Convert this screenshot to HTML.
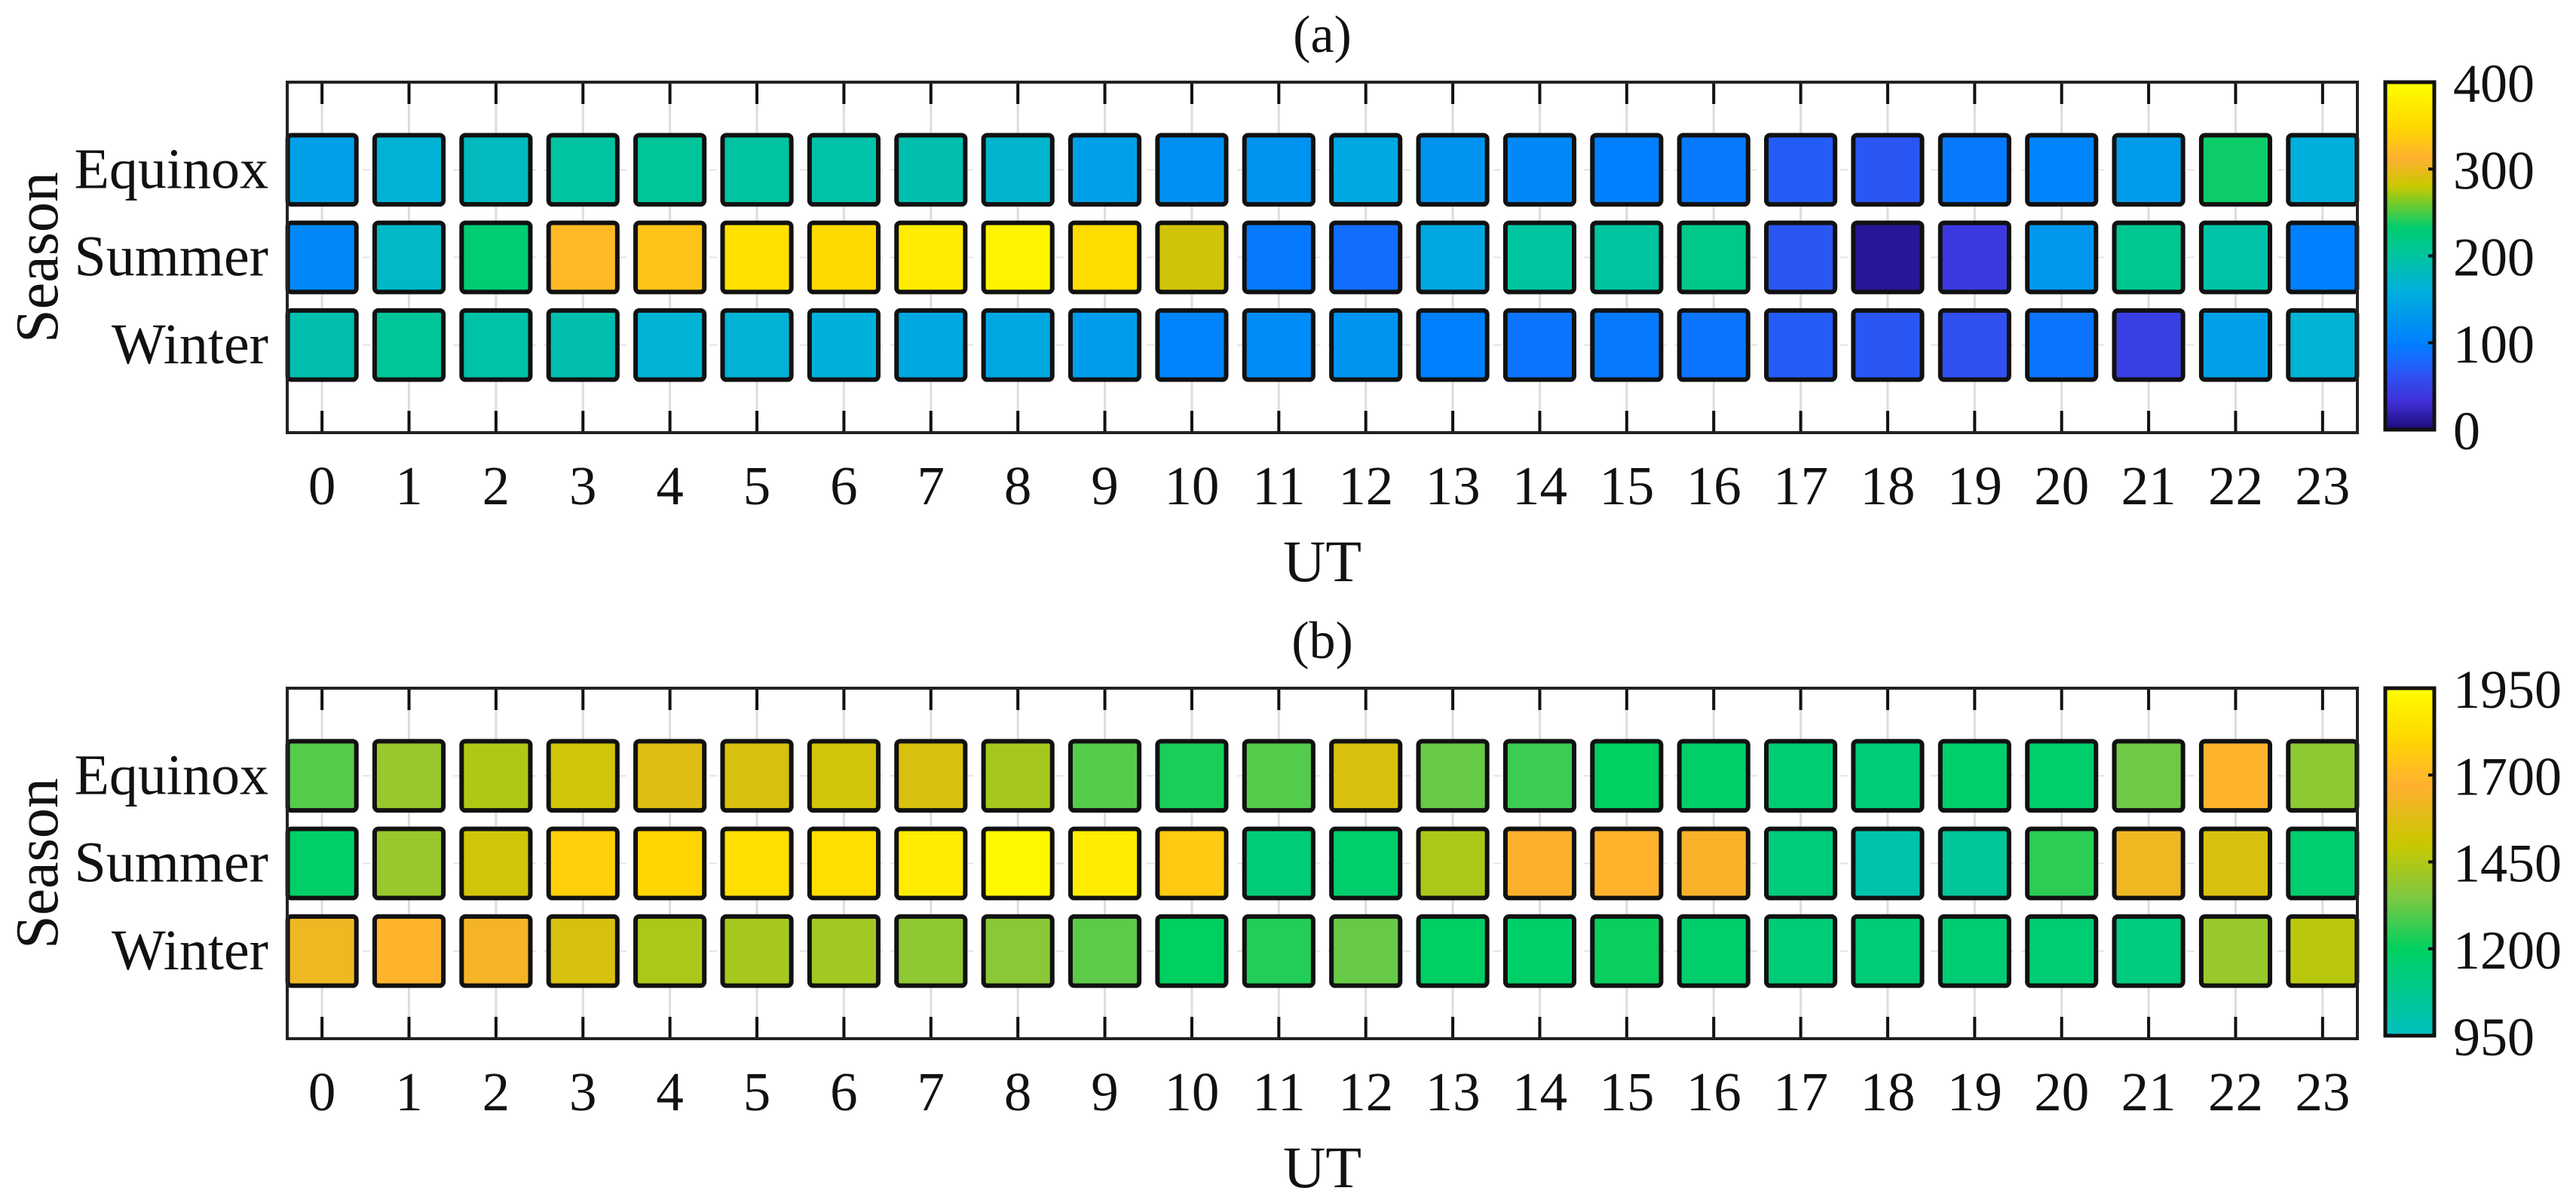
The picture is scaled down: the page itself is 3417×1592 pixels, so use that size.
<!DOCTYPE html>
<html><head><meta charset="utf-8">
<style>
html,body{margin:0;padding:0;background:#fff;}
svg{display:block;}
text{font-family:"Liberation Serif",serif;fill:#111;}
</style></head>
<body>
<svg id="fig" width="3417" height="1592" viewBox="0 0 3417 1592" xmlns="http://www.w3.org/2000/svg">
<defs>
<linearGradient id="cbA" x1="0" y1="1" x2="0" y2="0">
<stop offset="0" stop-color="#1c0a78"/><stop offset="0.08" stop-color="#4030d8"/><stop offset="0.15" stop-color="#3050f0"/><stop offset="0.2" stop-color="#1868ff"/>
<stop offset="0.25" stop-color="#0080ff"/><stop offset="0.4" stop-color="#00b0dc"/><stop offset="0.5" stop-color="#00c4a0"/>
<stop offset="0.58" stop-color="#00cc70"/><stop offset="0.63" stop-color="#50cc40"/><stop offset="0.7" stop-color="#c8c800"/>
<stop offset="0.78" stop-color="#ffb030"/><stop offset="0.87" stop-color="#ffd800"/><stop offset="1" stop-color="#ffff00"/>
</linearGradient>
<linearGradient id="cbB" x1="0" y1="1" x2="0" y2="0">
<stop offset="0" stop-color="#00c0c0"/><stop offset="0.25" stop-color="#00d060"/><stop offset="0.4" stop-color="#80c840"/>
<stop offset="0.55" stop-color="#c8c800"/><stop offset="0.72" stop-color="#ffb030"/><stop offset="0.86" stop-color="#ffd800"/>
<stop offset="1" stop-color="#ffff00"/>
</linearGradient>
</defs>
</svg>
<script>
const seasons = ["Equinox","Summer","Winter"];
const hours = [0,1,2,3,4,5,6,7,8,9,10,11,12,13,14,15,16,17,18,19,20,21,22,23];
const aEquinox = [140,165,180,200,205,200,195,190,170,140,120,125,150,125,110,100,95,70,65,95,105,135,235,160];
const aSummer  = [110,175,230,320,330,360,350,375,385,355,285,95,85,150,200,200,215,65,10,40,130,210,195,100];
const aWinter  = [190,205,195,190,165,165,160,150,150,135,105,115,125,100,90,95,90,70,65,60,90,45,140,165];
const bEquinox = [1300,1400,1450,1530,1570,1550,1530,1550,1430,1300,1230,1300,1550,1320,1270,1200,1180,1150,1140,1170,1170,1330,1680,1380];
const bSummer  = [1180,1400,1530,1780,1800,1830,1830,1880,1920,1880,1760,1140,1170,1440,1660,1680,1650,1130,1000,1050,1250,1620,1550,1160];
const bWinter  = [1620,1680,1640,1550,1440,1430,1420,1380,1370,1310,1200,1240,1320,1190,1180,1210,1170,1140,1140,1150,1150,1120,1400,1470];
const aTicks = [0,100,200,300,400];
const bTicks = [950,1200,1450,1700,1950];

const NS="http://www.w3.org/2000/svg";
const svg=document.getElementById('fig');
function mk(tag,attrs,parent){const e=document.createElementNS(NS,tag);for(const k in attrs)e.setAttribute(k,attrs[k]);(parent||svg).appendChild(e);return e;}
function hex(h){return [parseInt(h.slice(1,3),16),parseInt(h.slice(3,5),16),parseInt(h.slice(5,7),16)];}
function cmap(stops,t){t=Math.max(0,Math.min(1,t));for(let i=1;i<stops.length;i++){if(t<=stops[i][0]){const a=stops[i-1],b=stops[i];const f=(t-a[0])/(b[0]-a[0]||1);const ca=hex(a[1]),cb=hex(b[1]);return 'rgb('+ca.map((v,j)=>Math.round(v+(cb[j]-v)*f)).join(',')+')';}}return stops[stops.length-1][1];}
const stopsA=[[0,'#1c0a78'],[0.08,'#4030d8'],[0.15,'#3050f0'],[0.2,'#1868ff'],[0.25,'#0080ff'],[0.4,'#00b0dc'],[0.5,'#00c4a0'],[0.58,'#00cc70'],[0.63,'#50cc40'],[0.7,'#c8c800'],[0.78,'#ffb030'],[0.87,'#ffd800'],[1,'#ffff00']];
const stopsB=[[0,'#00c0c0'],[0.25,'#00d060'],[0.4,'#80c840'],[0.55,'#c8c800'],[0.72,'#ffb030'],[0.86,'#ffd800'],[1,'#ffff00']];

function panel(cfg){
  const L=381,R=3127,T=cfg.top,B=cfg.top+465;
  const xs=h=>L+(h+0.4)/23.8*(R-L);
  const ys=r=>T+(r+1)/4*(B-T);
  const g=mk('g',{});
  
  
  const t=mk('text',{x:(L+R)/2,y:T-40,'font-size':70,'text-anchor':'middle'},g);t.textContent=cfg.title;
  
  hours.forEach(h=>{mk('line',{x1:xs(h),x2:xs(h),y1:T,y2:B,stroke:'#ddd','stroke-width':3},g);});
  seasons.forEach((s,r)=>{mk('line',{x1:L,x2:R,y1:ys(r),y2:ys(r),stroke:'#e4e4e4','stroke-width':2,'stroke-dasharray':'10 10'},g);});
  hours.forEach(h=>{mk('line',{x1:xs(h),x2:xs(h),y1:T,y2:T+29,stroke:'#111','stroke-width':4},g);mk('line',{x1:xs(h),x2:xs(h),y1:B-29,y2:B,stroke:'#111','stroke-width':4},g);
    const tl=mk('text',{x:xs(h),y:T+560,'font-size':73,'text-anchor':'middle'},g);tl.textContent=h;
    });
  const cw=0.79*(R-L)/23.8, ch=0.79*(B-T)/4;
  cfg.rows.forEach((vals,r)=>{vals.forEach((v,h)=>{
    const x=xs(h)-cw/2, w=Math.min(cw,R-x);
    const c=mk('rect',{x:x,y:ys(r)-ch/2,width:w,height:ch,rx:5,fill:cmap(cfg.stops,(v-cfg.min)/(cfg.max-cfg.min)),stroke:'#111','stroke-width':6},g);
    
    
  });});
  const fr=mk('rect',{x:L,y:T,width:R-L,height:B-T,fill:'none',stroke:'#222','stroke-width':4},g);
  
  seasons.forEach((s,r)=>{const yl=mk('text',{x:356,y:ys(r)+24,'font-size':76,'text-anchor':'end'},g);yl.textContent=s;
    });
  const yt=mk('text',{x:0,y:0,'font-size':80,'text-anchor':'middle',transform:'translate(76,'+((T+B)/2)+') rotate(-90)'},g);yt.textContent='Season';
  
  const xt=mk('text',{x:(L+R)/2,y:T+662,'font-size':78,'text-anchor':'middle'},g);xt.textContent='UT';
  
  const cx=3164,cW=65,cT=T,cB=B-4;
  const cb=mk('rect',{x:cx,y:cT,width:cW,height:cB-cT,fill:'url(#'+cfg.grad+')',stroke:'#111','stroke-width':5},g);
  
  cfg.ticks.forEach(tv=>{const y=cB-(tv-cfg.min)/(cfg.max-cfg.min)*(cB-cT);
    mk('line',{x1:cx+cW-8,x2:cx+cW,y1:y,y2:y,stroke:'#111','stroke-width':4},g);
    const cl=mk('text',{x:3254,y:y+26,'font-size':72},g);cl.textContent=tv;
    });
}
panel({name:'panel-a',title:'(a)',top:109,rows:[aEquinox,aSummer,aWinter],min:0,max:400,stops:stopsA,grad:'cbA',ticks:aTicks});
panel({name:'panel-b',title:'(b)',top:913,rows:[bEquinox,bSummer,bWinter],min:950,max:1950,stops:stopsB,grad:'cbB',ticks:bTicks});
</script>
</body></html>
